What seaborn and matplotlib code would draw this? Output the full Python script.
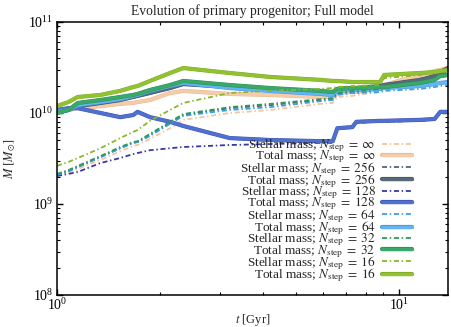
import matplotlib
matplotlib.use("Agg")
import matplotlib.pyplot as plt
import matplotlib.patheffects as pe
import seaborn as sns
import numpy as np
import pandas as pd

# ---- data (time in Gyr, mass in 1e10 Msun) ----
t_gyr = [1.00, 1.08, 1.15, 1.34, 1.53, 1.67, 1.72, 1.87, 2.14, 2.34, 3.2, 4.2,
         5.9, 6.4, 6.6, 7.3, 7.5, 8.8, 9.05, 11.5, 12.7, 13.2, 13.9]

total_inf = [1.00, 1.08, 1.13, 1.19, 1.26, 1.29, 1.32, 1.39, 1.66, 1.75, 1.62, 1.58,
             1.50, 1.50, 1.66, 1.70, 1.70, 1.88, 2.03, 2.62, 2.89, 2.97, 3.12]
stellar_inf = [0.203, 0.219, 0.243, 0.305, 0.38, 0.434, 0.445, 0.52, 0.68, 0.84, 1.00, 1.08,
               1.26, 1.29, 1.50, 1.54, 1.58, 1.70, 1.88, 2.42, 2.68, 2.75, 2.89]
total_256 = [1.03, 1.08, 1.19, 1.29, 1.39, 1.50, 1.54, 1.66, 1.88, 2.08, 1.93, 1.84,
             1.70, 1.70, 1.84, 1.88, 1.88, 1.98, 2.03, 2.31, 2.55, 2.82, 3.12]
stellar_256 = [0.208, 0.23, 0.255, 0.328, 0.41, 0.47, 0.48, 0.57, 0.78, 0.95, 1.13, 1.22,
               1.39, 1.42, 1.62, 1.70, 1.70, 1.79, 1.84, 2.08, 2.31, 2.62, 2.82]
total_128 = [1.08, 1.13, 1.13, 1.00, 0.90, 0.95, 1.03, 0.90, 0.80, 0.72, 0.53, 0.505,
             0.49, 0.49, 0.68, 0.70, 0.80, 0.82, 0.82, 0.84, 0.86, 1.03, 1.03]
stellar_128 = [0.203, 0.214, 0.225, 0.282, 0.32, 0.354, 0.363, 0.39, 0.41, 0.423, 0.445, 0.456,
               0.47, 0.47, 0.67, 0.68, 0.78, 0.80, 0.80, 0.82, 0.84, 1.00, 1.00]
total_64 = [1.03, 1.08, 1.22, 1.32, 1.42, 1.54, 1.58, 1.75, 1.98, 2.14, 1.88, 1.75,
            1.62, 1.58, 1.75, 1.79, 1.79, 1.84, 1.88, 1.98, 2.08, 2.14, 2.19]
stellar_64 = [0.208, 0.23, 0.255, 0.328, 0.41, 0.47, 0.48, 0.56, 0.76, 0.93, 1.08, 1.16,
              1.35, 1.39, 1.58, 1.66, 1.66, 1.70, 1.75, 1.84, 1.93, 1.98, 2.03]
total_32 = [1.00, 1.08, 1.29, 1.39, 1.50, 1.58, 1.62, 1.79, 2.03, 2.25, 2.03, 1.88,
            1.75, 1.70, 1.84, 1.88, 1.88, 1.93, 1.93, 2.14, 2.31, 2.55, 2.62]
stellar_32 = [0.214, 0.236, 0.262, 0.337, 0.423, 0.48, 0.49, 0.59, 0.80, 0.975, 1.16, 1.26,
              1.42, 1.46, 1.66, 1.75, 1.75, 1.84, 1.88, 2.08, 2.25, 2.49, 2.55]
total_16 = [1.19, 1.32, 1.50, 1.58, 1.75, 1.93, 1.98, 2.25, 2.75, 3.12, 2.75, 2.49,
            2.31, 2.25, 2.25, 2.19, 2.19, 2.19, 2.62, 2.75, 2.82, 2.89, 2.97]
stellar_16 = [0.262, 0.29, 0.32, 0.41, 0.53, 0.62, 0.65, 0.82, 1.08, 1.29, 1.66, 1.75,
              1.84, 1.88, 1.93, 1.98, 1.98, 2.03, 2.42, 2.62, 2.75, 2.82, 2.89]

nstep_labels = [r"\infty", "256", "128", "64", "32", "16"]
stellar_series = [stellar_inf, stellar_256, stellar_128, stellar_64, stellar_32, stellar_16]
total_series = [total_inf, total_256, total_128, total_64, total_32, total_16]
stellar_colors = ["#f2c4a0", "#4f6878", "#3838a8", "#3a9ee8", "#2e9a5a", "#88b828"]
total_colors = ["#f5cba8", "#566a78", "#5070d0", "#62b4f4", "#3aa868", "#92c232"]
edge_colors = ["#e6b894", "#43586a", "#3e56b8", "#4298dc", "#2e9058", "#7eaa24"]

sns.set_theme(style="ticks")
plt.rcParams["font.family"] = ["Liberation Serif", "DejaVu Serif"]
plt.rcParams["mathtext.fontset"] = "stix"
plt.rcParams["axes.linewidth"] = 1.1
plt.rcParams["xtick.direction"] = "in"
plt.rcParams["ytick.direction"] = "in"

fig = plt.figure(figsize=(4.51, 3.27), dpi=100)
ax = fig.add_axes([0.1264, 0.0979, 0.8669, 0.8348])

for lab, st, tot, cs, ct, ce in zip(nstep_labels, stellar_series, total_series,
                                    stellar_colors, total_colors, edge_colors):
    df = pd.DataFrame({"t": t_gyr, "stellar": np.array(st) * 1e10,
                       "total": np.array(tot) * 1e10})
    sns.lineplot(data=df, x="t", y="stellar", ax=ax, color=cs, lw=1.3,
                 linestyle=(0, (2.8, 1.5, 0.8, 1.5)),
                 label=rf"Stellar mass; $N_{{\rm step}}\;=\;{lab}$")
    sns.lineplot(data=df, x="t", y="total", ax=ax, color=ct, lw=2.4,
                 label=rf"Total mass; $N_{{\rm step}}\;=\;{lab}$",
                 path_effects=[pe.Stroke(linewidth=3.0, foreground=ce), pe.Normal()])

ax.set_xscale("log")
ax.set_yscale("log")
ax.set_xlim(1.0, 13.9)
ax.set_ylim(1e8, 1e11)
ax.tick_params(which="both", top=True, right=True, labelsize=10, colors="black")
ax.tick_params(axis="x", which="major", pad=1.5)
ax.tick_params(axis="y", which="major", pad=2.5)
ax.tick_params(which="major", length=4, width=1)
ax.tick_params(which="minor", length=2, width=0.8)
for s in ax.spines.values():
    s.set_color("black")

ax.set_xlabel(r"$t$ [Gyr]", fontsize=9)
ax.xaxis.set_label_coords(0.5, -0.063)
ax.set_ylabel(r"$M\ [M_{\odot}]$", fontsize=9)
ax.yaxis.set_label_coords(-0.1, 0.5)
ax.set_title("Evolution of primary progenitor; Full model", fontsize=9.8, pad=5)

leg = ax.legend(loc="lower right", bbox_to_anchor=(0.915, 0.03), frameon=False,
                fontsize=9.5, markerfirst=False, labelspacing=-0.41,
                handlelength=2.3, handletextpad=0.45, borderpad=0.2,
                borderaxespad=0)

fig.savefig("out.png", dpi=100)
